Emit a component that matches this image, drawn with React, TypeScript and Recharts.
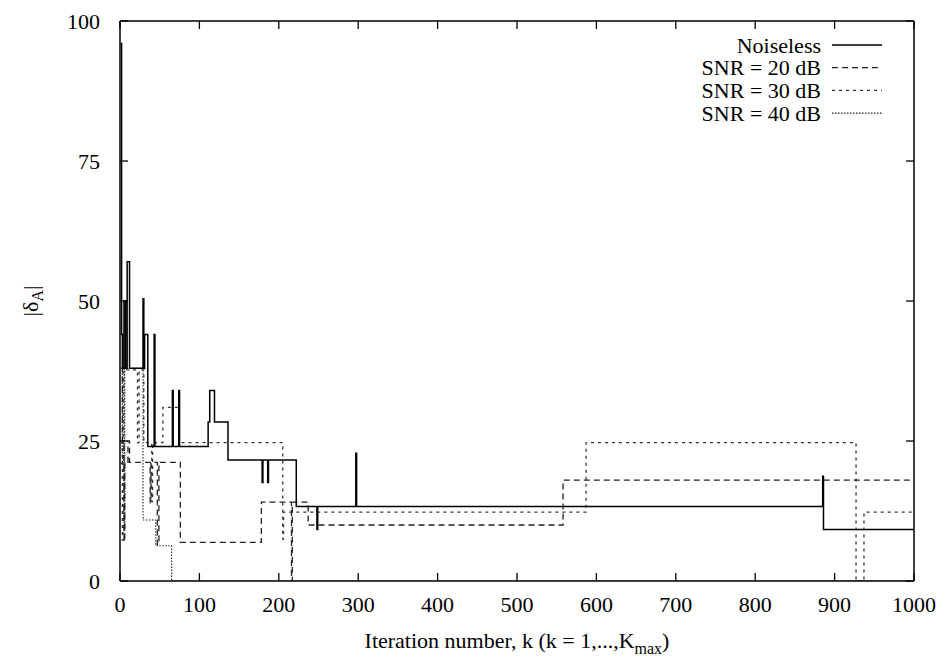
import React from "react";
import { LineChart, Line, XAxis, YAxis } from "recharts";

// ---------- data (iteration k, |delta_A|), step-after values ----------
const noiselessK = [1, 2, 3, 5, 7, 9, 12, 29, 30, 31, 35, 43, 44, 66, 67, 74, 75, 111, 113, 119, 136, 179, 180, 186, 187, 222, 248, 249, 297, 298, 885, 886, 1000];
const noiselessV = [96, 44, 38, 50, 38, 57, 38, 50.4, 38, 44, 24, 44, 24, 34, 24, 34, 24, 28.4, 34, 28.4, 21.6, 17.6, 21.6, 17.6, 21.6, 13.3, 9.2, 13.3, 22.8, 13.3, 18.7, 9.2, 9.2];

const snr20K = [1, 3, 5, 6, 10, 12, 38, 39, 47, 49, 76, 178, 216, 217, 237, 558, 1000];
const snr20V = [38, 25, 7, 21.2, 25, 21.2, 14, 21.2, 6.5, 21.2, 6.9, 14.1, 0, 14.1, 10.0, 18.0, 18.0];

const snr30K = [1, 3, 4, 22, 24, 30, 40, 41, 54, 74, 205, 206, 587, 927, 937, 1000];
const snr30V = [24.7, 7.3, 37.7, 24.7, 37.7, 24.7, 14.2, 24.7, 31.0, 24.7, 7.5, 12.3, 24.7, 0, 12.3, 12.3];

const snr40K = [1, 3, 5, 6, 29, 45, 65, 1000];
const snr40V = [21, 38, 9, 38, 10.9, 6.3, 0, 0];

const xTicks = [0, 100, 200, 300, 400, 500, 600, 700, 800, 900, 1000];
const yTicks = [0, 25, 50, 75, 100];

const seriesNames = ["Noiseless", "SNR = 20 dB", "SNR = 30 dB", "SNR = 40 dB"];

const build = (ks: number[], vs: number[]) => ks.map((k, i) => ({ k, v: vs[i] }));
const noiselessData = build(noiselessK, noiselessV);
const snr20Data = build(snr20K, snr20V);
const snr30Data = build(snr30K, snr30V);
const snr40Data = build(snr40K, snr40V);

const styles = [
  { stroke: "#000000", width: 1.5, dash: undefined as string | undefined },
  { stroke: "#222222", width: 1.3, dash: "6 4" },
  { stroke: "#333333", width: 1.3, dash: "3 4" },
  { stroke: "#222222", width: 1.1, dash: "1.5 1.5" },
];

const FONT = "Liberation Serif";
const FS = 22;
const TICK = 8;

const CSS = `#root svg text, #root svg tspan, #root .serif-text { font-family: "Liberation Serif", serif !important; }`;

const BottomTick = (props: any) => {
  const { x, y, payload } = props;
  return (
    <g>
      <line x1={x} y1={y} x2={x} y2={y - TICK} stroke="#000" strokeWidth={1.3} />
      <text className="serif-text" x={x} y={y + 31} textAnchor="middle" fontFamily={FONT} fontSize={FS} fill="#000">
        {payload.value}
      </text>
    </g>
  );
};
const TopTick = (props: any) => {
  const { x, y } = props;
  return <line x1={x} y1={y} x2={x} y2={y + TICK} stroke="#000" strokeWidth={1.3} />;
};
const LeftTick = (props: any) => {
  const { x, y, payload } = props;
  return (
    <g>
      <line x1={x} y1={y} x2={x + TICK} y2={y} stroke="#000" strokeWidth={1.3} />
      <text className="serif-text" x={x - 20} y={y + 7.5} textAnchor="end" fontFamily={FONT} fontSize={FS} fill="#000">
        {payload.value}
      </text>
    </g>
  );
};
const RightTick = (props: any) => {
  const { x, y } = props;
  return <line x1={x} y1={y} x2={x - TICK} y2={y} stroke="#000" strokeWidth={1.3} />;
};

const XLabel = (props: any) => {
  const vb = props.viewBox;
  const cx = vb.x + vb.width / 2;
  return (
    <text className="serif-text" x={cx} y={648} textAnchor="middle" fontFamily={FONT} fontSize={FS} fill="#000">
      Iteration number, k (k = 1,...,K
      <tspan fontSize={16} dy={6}>max</tspan>
      <tspan dy={-6}>)</tspan>
    </text>
  );
};

const YLabel = (props: any) => {
  const vb = props.viewBox;
  const cy = vb.y + vb.height / 2;
  const cx = 38;
  return (
    <text className="serif-text" x={cx} y={cy} textAnchor="middle" fontFamily={FONT} fontSize={FS} fill="#000" transform={`rotate(-90 ${cx} ${cy})`}>
      |δ
      <tspan fontSize={16} dy={5}>A</tspan>
      <tspan dy={-5}>|</tspan>
    </text>
  );
};

const LegendOverlay = () => (
  <svg width={946} height={666} style={{ position: "absolute", left: 0, top: 0, pointerEvents: "none" }}>
    {seriesNames.map((n, i) => {
      const cy = 45 + i * 22.7;
      const s = styles[i];
      return (
        <g key={n}>
          <text className="serif-text" x={821} y={cy + 7.5} textAnchor="end" fontFamily={FONT} fontSize={FS} fill="#000">
            {n}
          </text>
          <line x1={832} y1={cy} x2={882} y2={cy} stroke={s.stroke} strokeWidth={s.width} strokeDasharray={s.dash} />
        </g>
      );
    })}
  </svg>
);

export default function App() {
  return (
    <div
      style={{
        position: "absolute",
        left: 0,
        top: 0,
        width: 946,
        height: 666,
        background: "#fff",
        fontFamily: FONT,
      }}
    >
      <style>{CSS}</style>
      <LineChart width={946} height={666} margin={{ top: 20, right: 31, bottom: 25, left: 60 }}>
        <XAxis
          xAxisId="b"
          type="number"
          dataKey="k"
          domain={[0, 1000]}
          ticks={xTicks}
          interval={0}
          height={60}
          tickSize={0}
          tickMargin={0}
          tickLine={false}
          axisLine={{ stroke: "#000", strokeWidth: 1.5 }}
          tick={<BottomTick />}
          allowDataOverflow
          label={<XLabel />}
        />
        <XAxis
          xAxisId="t"
          orientation="top"
          type="number"
          dataKey="k"
          domain={[0, 1000]}
          ticks={xTicks}
          interval={0}
          height={1}
          tickSize={0}
          tickMargin={0}
          tickLine={false}
          axisLine={{ stroke: "#000", strokeWidth: 1.5 }}
          tick={<TopTick />}
          allowDataOverflow
        />
        <YAxis
          yAxisId="l"
          type="number"
          domain={[0, 100]}
          ticks={yTicks}
          interval={0}
          width={60}
          tickSize={0}
          tickMargin={0}
          tickLine={false}
          axisLine={{ stroke: "#000", strokeWidth: 1.5 }}
          tick={<LeftTick />}
          allowDataOverflow
          label={<YLabel />}
        />
        <YAxis
          yAxisId="r"
          orientation="right"
          type="number"
          domain={[0, 100]}
          ticks={yTicks}
          interval={0}
          width={1}
          tickSize={0}
          tickMargin={0}
          tickLine={false}
          axisLine={{ stroke: "#000", strokeWidth: 1.5 }}
          tick={<RightTick />}
          allowDataOverflow
        />
        <Line xAxisId="b" yAxisId="l" data={snr40Data} dataKey="v" name={seriesNames[3]} type="stepAfter" dot={false}
          stroke={styles[3].stroke} strokeWidth={styles[3].width} strokeDasharray={styles[3].dash} isAnimationActive={false} />
        <Line xAxisId="b" yAxisId="l" data={snr30Data} dataKey="v" name={seriesNames[2]} type="stepAfter" dot={false}
          stroke={styles[2].stroke} strokeWidth={styles[2].width} strokeDasharray={styles[2].dash} isAnimationActive={false} />
        <Line xAxisId="b" yAxisId="l" data={snr20Data} dataKey="v" name={seriesNames[1]} type="stepAfter" dot={false}
          stroke={styles[1].stroke} strokeWidth={styles[1].width} strokeDasharray={styles[1].dash} isAnimationActive={false} />
        <Line xAxisId="b" yAxisId="l" data={noiselessData} dataKey="v" name={seriesNames[0]} type="stepAfter" dot={false}
          stroke={styles[0].stroke} strokeWidth={styles[0].width} isAnimationActive={false} />
      </LineChart>
      <LegendOverlay />
    </div>
  );
}
